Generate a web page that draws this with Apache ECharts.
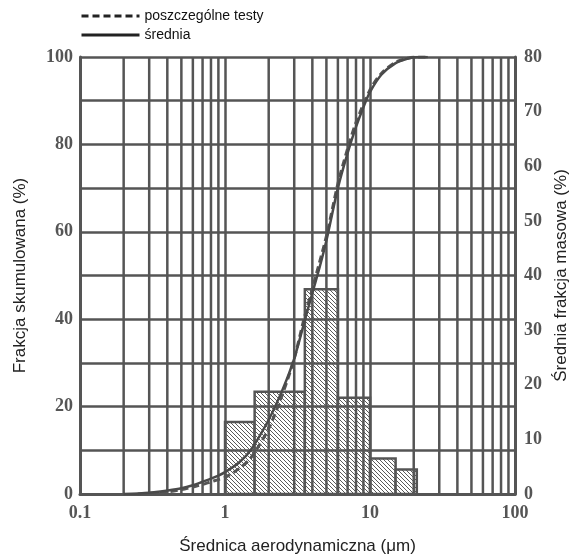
<!DOCTYPE html>
<html>
<head>
<meta charset="utf-8">
<script src="https://cdn.jsdelivr.net/npm/echarts@6/dist/echarts.min.js"></script>
<style>html,body{margin:0;padding:0;background:#fff}#c{width:578px;height:560px}</style>
</head>
<body>
<div id="c"></div>
<script>
// ---- data ----
const binEdges = [1, 1.6, 3.55, 6.0, 10, 15, 21];
const binHeights = [13.2, 18.7, 37.5, 17.6, 6.5, 4.5];
const meanX = [0.2, 0.3, 0.4, 0.5, 0.6, 0.7, 0.8, 0.9, 1.0, 1.25, 1.5, 2.0, 2.5, 3.0, 3.5, 4.0, 4.5, 5.0, 6.0, 7.0, 8.0, 9.0, 10, 12, 15, 18, 21, 25];
const meanY = [0, 0.3, 0.8, 1.3, 2.0, 2.8, 3.5, 4.2, 5.0, 7.2, 10, 17, 24, 31, 39, 46, 52, 58, 70, 78, 84, 88.5, 92, 96, 98.6, 99.6, 100, 100];
const testX = [0.25, 0.4, 0.5, 0.6, 0.7, 0.8, 0.9, 1.0, 1.25, 1.5, 2.0, 2.5, 3.0, 3.5, 4.0, 5.0, 6.0, 7.0, 8.0, 10, 12, 15, 18, 21, 25];
const testY = [0, 0.5, 1.0, 1.6, 2.2, 2.8, 3.3, 3.8, 5.8, 8.2, 15, 23, 31, 40, 47, 59, 71, 79, 85, 92.5, 96.3, 98.8, 99.7, 100, 100];
const minorGridX = [0.2,0.3,0.4,0.5,0.6,0.7,0.8,0.9,2,3,4,5,6,7,8,9,20,30,40,50,60,70,80,90];
const seriesNames = ['poszczególne testy', 'średnia'];

// hatch pattern
const pc = document.createElement('canvas');
pc.width = 4; pc.height = 4;
const ctx = pc.getContext('2d');
ctx.fillStyle = '#fff'; ctx.fillRect(0,0,4,4);
ctx.strokeStyle = '#5a5a5a'; ctx.lineWidth = 1;
ctx.beginPath();
ctx.moveTo(-1,-1); ctx.lineTo(5,5);
ctx.moveTo(-1,3); ctx.lineTo(1,5);
ctx.moveTo(3,-1); ctx.lineTo(5,1);
ctx.stroke();

const G = '#555';
const tickFont = {fontFamily: 'Liberation Serif', fontWeight: 'bold', fontSize: 18, color: '#555'};
const nameFont = {fontFamily: 'Liberation Sans', fontSize: 17, color: '#222'};

const chart = echarts.init(document.getElementById('c'), null, {renderer: 'canvas'});
chart.setOption({
  animation: false,
  backgroundColor: '#fff',
  grid: {left: 80, right: 60, top: 57, bottom: 66},
  legend: {
    data: seriesNames, orient: 'vertical', left: 75, top: 4,
    itemWidth: 58, itemHeight: 16, itemGap: 5,
    itemStyle: {opacity: 0},
    lineStyle: {width: 3, color: '#222'},
    textStyle: {fontFamily: 'Liberation Sans', fontSize: 14, color: '#111'}
  },
  xAxis: {
    type: 'log', logBase: 10, min: 0.1, max: 100, z: 3,
    name: 'Średnica aerodynamiczna (μm)', nameLocation: 'middle', nameGap: 44, nameTextStyle: nameFont,
    axisLine: {show: true, lineStyle: {color: G, width: 3}},
    axisTick: {show: false},
    axisLabel: Object.assign({margin: 10, formatter: v => String(v)}, tickFont),
    splitLine: {show: true, lineStyle: {color: G, width: 2.5}}
  },
  yAxis: [{
    type: 'value', min: 0, max: 100, interval: 20, z: 3,
    name: 'Frakcja skumulowana (%)', nameLocation: 'middle', nameGap: 51, nameTextStyle: nameFont,
    axisLine: {show: true, lineStyle: {color: G, width: 3}},
    axisTick: {show: false},
    axisLabel: Object.assign({margin: 7}, tickFont),
    splitLine: {show: true, lineStyle: {color: G, width: 2.5}},
    minorTick: {show: false, splitNumber: 2},
    minorSplitLine: {show: true, lineStyle: {color: G, width: 2.5}}
  }, {
    type: 'value', min: 0, max: 80, interval: 10, z: 3, position: 'right',
    name: 'Średnia frakcja masowa (%)', nameLocation: 'middle', nameGap: 36, nameTextStyle: nameFont,
    axisLine: {show: true, lineStyle: {color: G, width: 3}},
    axisTick: {show: false},
    axisLabel: Object.assign({margin: 9}, tickFont),
    splitLine: {show: false}
  }],
  series: [{
    type: 'custom', name: 'hist', yAxisIndex: 1, z: 1, silent: true,
    data: binHeights.map((h, i) => [binEdges[i], binEdges[i + 1], h]),
    encode: {x: [0, 1], y: 2},
    renderItem: function (params, api) {
      const p0 = api.coord([api.value(0), api.value(2)]);
      const p1 = api.coord([api.value(1), 0]);
      return {type: 'rect', shape: {x: p0[0], y: p0[1], width: p1[0] - p0[0], height: p1[1] - p0[1]},
        style: {fill: {image: pc, repeat: 'repeat'}, stroke: G, lineWidth: 2.5}};
    }
  }, {
    type: 'custom', name: 'grid', yAxisIndex: 0, z: 3, silent: true,
    data: minorGridX.map(x => [x]),
    encode: {x: 0},
    renderItem: function (params, api) {
      const a = api.coord([api.value(0), 0]);
      const b = api.coord([api.value(0), 100]);
      return {type: 'line', shape: {x1: a[0], y1: a[1], x2: b[0], y2: b[1]}, style: {stroke: G, lineWidth: 2.5}};
    }
  }, {
    type: 'line', name: seriesNames[0], yAxisIndex: 0, z: 5, smooth: 0.3, symbol: 'none', showSymbol: false,
    data: testX.map((x, i) => [x, testY[i]]),
    lineStyle: {color: '#555', width: 3, type: [7, 4]}, itemStyle: {color: '#555'}
  }, {
    type: 'line', name: seriesNames[1], yAxisIndex: 0, z: 6, smooth: 0.3, symbol: 'none', showSymbol: false,
    data: meanX.map((x, i) => [x, meanY[i]]),
    lineStyle: {color: '#4a4a4a', width: 2.5, type: 'solid'}, itemStyle: {color: '#4a4a4a'}
  }]
});
</script>
</body>
</html>
